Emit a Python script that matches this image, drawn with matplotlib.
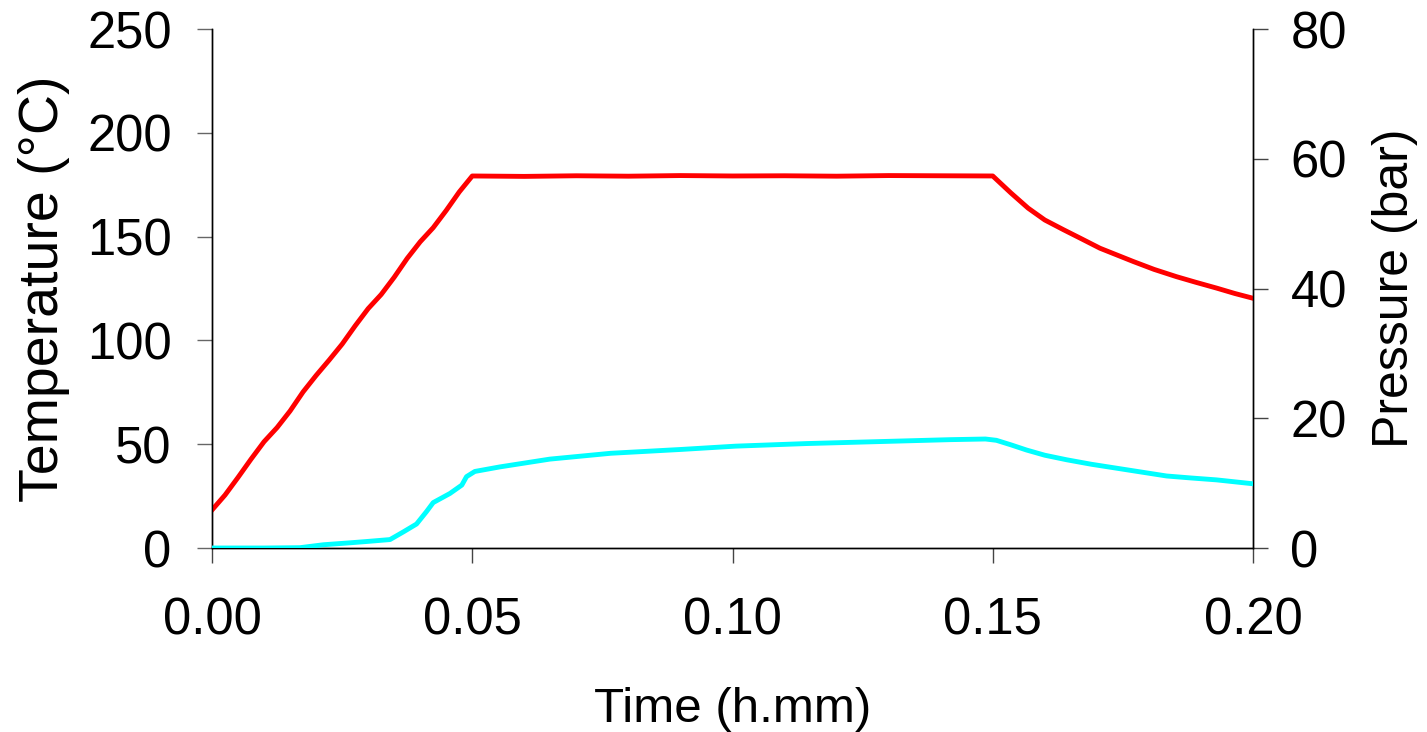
import numpy as np
import matplotlib.pyplot as plt

plt.rcParams['font.family'] = ['Liberation Sans', 'DejaVu Sans']

# Temperature trace (deg C) vs time (h.mm)
time_temp = [0.000, 0.0025, 0.005, 0.0075, 0.010, 0.0125, 0.015, 0.0175,
             0.020, 0.0225, 0.025, 0.0275, 0.030, 0.0325, 0.035, 0.0375,
             0.040, 0.0425, 0.045, 0.0475, 0.050, 0.060, 0.070, 0.080,
             0.090, 0.100, 0.110, 0.120, 0.130, 0.140, 0.150, 0.1535,
             0.1568, 0.160, 0.1636, 0.167, 0.1706, 0.174, 0.1770, 0.181,
             0.1853, 0.189, 0.1930, 0.1965, 0.200]
temperature = [18.3, 25.5, 34.0, 42.8, 51.2, 58.0, 66.0, 75.2,
               83.1, 90.5, 98.2, 107.0, 115.3, 122.1, 130.4, 139.5,
               147.5, 154.3, 162.6, 171.5, 179.2, 179.0, 179.3, 179.1,
               179.4, 179.2, 179.3, 179.1, 179.4, 179.3, 179.2, 171.0,
               163.7, 158.0, 153.3, 149.0, 144.4, 141.0, 138.0, 134.2,
               130.7, 128.0, 125.2, 122.6, 120.3]

# Pressure trace (bar) vs time (h.mm)
time_pres = [0.000, 0.010, 0.0169, 0.0214, 0.0265, 0.0297, 0.0342, 0.0368,
             0.0393, 0.0412, 0.0425, 0.0457, 0.0480, 0.0489, 0.0505, 0.0553,
             0.0649, 0.0766, 0.0903, 0.1006, 0.1143, 0.1281, 0.1418, 0.1486,
             0.1507, 0.1535, 0.1565, 0.160, 0.1642, 0.169, 0.1738, 0.1786,
             0.1834, 0.188, 0.1930, 0.1965, 0.200]
pressure = [0.0, 0.0, 0.05, 0.5, 0.8, 1.0, 1.3, 2.5,
            3.7, 5.6, 7.0, 8.4, 9.7, 11.0, 11.8, 12.5,
            13.7, 14.6, 15.2, 15.7, 16.1, 16.4, 16.7, 16.8,
            16.6, 15.9, 15.1, 14.3, 13.6, 12.9, 12.3, 11.7,
            11.1, 10.8, 10.5, 10.2, 9.9]

x_ticks = [0.00, 0.05, 0.10, 0.15, 0.20]
t_ticks = [0, 50, 100, 150, 200, 250]
p_ticks = [0, 20, 40, 60, 80]

fig = plt.figure(figsize=(14.27, 7.32), dpi=100)
ax = fig.add_axes([212 / 1427, 1 - 548 / 732, 1041 / 1427, 519 / 732])
ax2 = ax.twinx()

ax.plot(time_temp, temperature, color='#ff0000', linewidth=3.5, zorder=3)
ax2.plot(time_pres, pressure, color='#00ffff', linewidth=3.5, zorder=3)

ax.set_xlim(0, 0.2)
ax.set_ylim(0, 250)
ax2.set_ylim(0, 80)
ax.set_xticks(x_ticks)
ax.set_xticklabels([f'{v:.2f}' for v in x_ticks])
ax.set_yticks(t_ticks)
ax2.set_yticks(p_ticks)

for a in (ax, ax2):
    a.spines['top'].set_visible(False)
    for s in a.spines.values():
        s.set_linewidth(1.0)
        s.set_color('black')

fs = 36.5
ax.tick_params(axis='x', direction='out', length=11, width=1, pad=24,
               labelsize=fs, color='#444444')
ax.tick_params(axis='y', direction='out', length=11, width=1, pad=18,
               labelsize=fs, color='#666666')
ax2.tick_params(axis='y', direction='out', length=11, width=1, pad=16,
                labelsize=fs, color='#444444')

ax.set_xlabel('Time (h.mm)', fontsize=35.5, labelpad=30)
ax.set_ylabel('Temperature (°C)', fontsize=40, labelpad=12)
ax2.set_ylabel('Pressure (bar)', fontsize=36, labelpad=18)

fig.savefig('out.png', dpi=100)
